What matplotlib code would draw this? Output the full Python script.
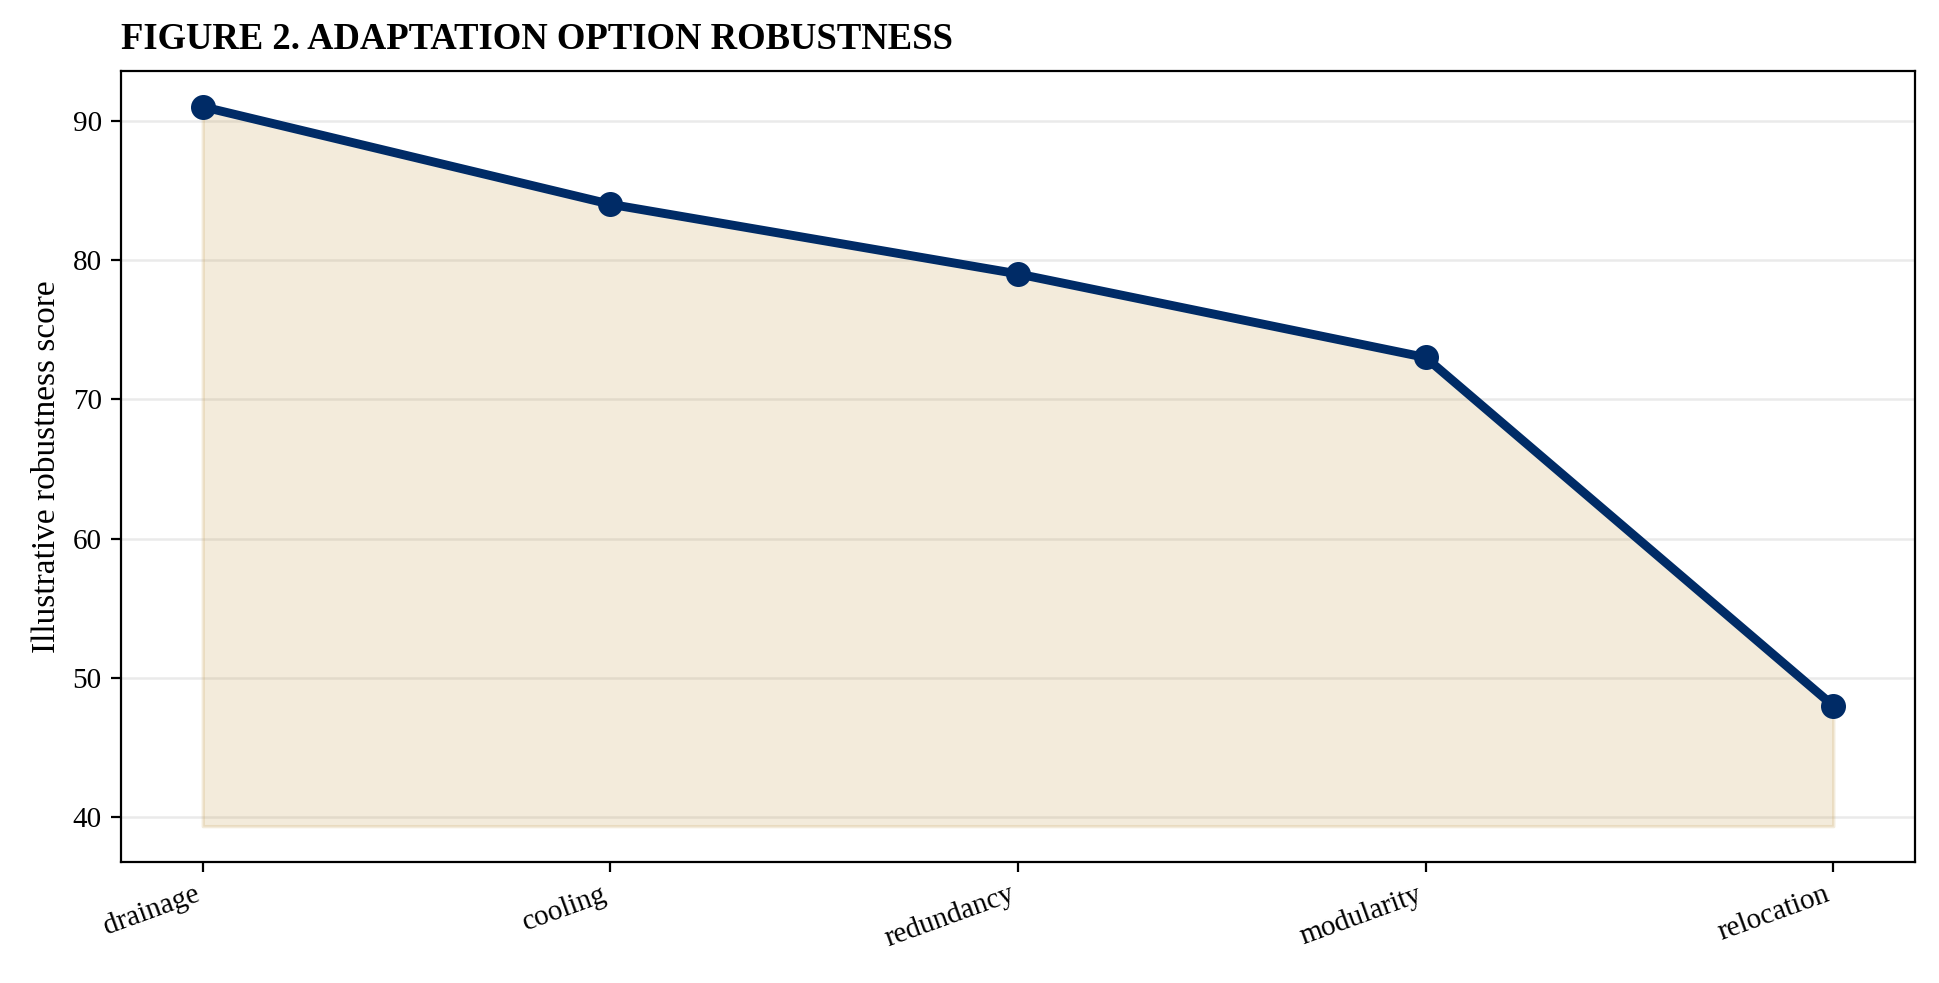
import matplotlib
matplotlib.use("Agg")
import matplotlib.pyplot as plt

categories = ["drainage", "cooling", "redundancy", "modularity", "relocation"]
scores = [91, 84, 79, 73, 48]
fill_base = min(scores) * 0.82

plt.rcParams['font.family'] = ['Liberation Serif', 'DejaVu Serif']

fig = plt.figure(figsize=(9.7, 4.915), dpi=200)
ax = fig.add_axes([0.0625, 0.123, 0.9245, 0.805])

x = list(range(len(categories)))
ax.fill_between(x, fill_base, scores, color='#c9a45c', alpha=0.22, linewidth=1.2)
ax.plot(x, scores, color='#002b66', linewidth=3.2, marker='o', markersize=8, zorder=3)

ax.set_xticks(x)
ax.set_xticklabels(categories, rotation=20, ha='right', fontsize=10.5)
ax.tick_params(axis='y', labelsize=10.5)
ax.set_yticks([40, 50, 60, 70, 80, 90])
ax.set_ylabel("Illustrative robustness score", fontsize=12)
ax.grid(axis='y', color='#dddddd', alpha=0.6, linewidth=0.9)
ax.set_axisbelow(True)
ax.set_title("FIGURE 2. ADAPTATION OPTION ROBUSTNESS", loc='left', fontweight='bold', fontsize=13.2, pad=8)

fig.savefig("out.png", dpi=200)
